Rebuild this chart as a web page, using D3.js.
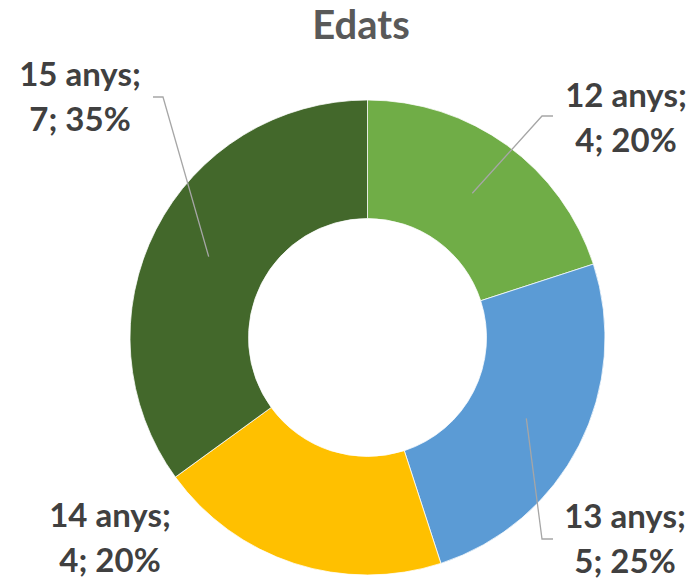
<!DOCTYPE html>
<html>
<head>
<meta charset="utf-8">
<script src="https://cdn.jsdelivr.net/npm/d3@7/dist/d3.min.js"></script>
<style>
  body { margin: 0; background: #fff; }
  text { font-family: Lato, 'Open Sans', sans-serif; font-weight: 700; }
</style>
</head>
<body>
<script>
// data
const categories = ['12 anys', '13 anys', '14 anys', '15 anys'];
const values = [4, 5, 4, 7];
const colors = ['#70AD47', '#5B9BD5', '#FFC000', '#43682B'];

const width = 695;
const height = 580;
const center = { x: 367.5, y: 337.5 };
const outerR = 237.5;
const innerR = 119;

// label layout (x = text centre, y = first baseline, elbow = end of leader near the text)
const labelLayout = [
    { x: 626, y: 107, elbow: [553, 116], knee: [542, 116] },
    { x: 625, y: 528, elbow: [553, 539], knee: [542, 539] },
    { x: 110, y: 527, elbow: null },
    { x: 80, y: 86, elbow: [153, 97], knee: [163, 97], anchorAngle: 297 }
];

const svg = d3.select('body').append('svg')
    .attr('width', width)
    .attr('height', height);

svg.append('text')
    .attr('x', 361)
    .attr('y', 39)
    .attr('text-anchor', 'middle')
    .attr('fill', '#595959')
    .style('font-size', '40px')
    .text('Edats');

const total = d3.sum(values);
const pie = d3.pie().sort(null).value((d) => d.value);
const arc = d3.arc().innerRadius(innerR).outerRadius(outerR);
const data = categories.map((c, i) => ({ name: c, value: values[i], color: colors[i] }));
const arcs = pie(data);

const root = svg.append('g').attr('transform', `translate(${center.x},${center.y})`);

root.selectAll('path.slice').data(arcs).enter().append('path')
    .attr('class', 'slice')
    .attr('d', arc)
    .attr('fill', (d) => d.data.color)
    .attr('stroke', '#fff')
    .attr('stroke-width', 0.75);

//leader lines
const midR = (innerR + outerR) / 2;
arcs.forEach((d, i) => {
    const lay = labelLayout[i];
    if (!lay.elbow) return;
    let p;
    if (lay.anchorAngle != null) {
        const a = lay.anchorAngle * Math.PI / 180;
        p = [Math.sin(a) * midR, -Math.cos(a) * midR];
    } else {
        p = d3.arc().innerRadius(midR).outerRadius(midR).centroid(d);
    }
    const pts = [lay.elbow, lay.knee, [center.x + p[0], center.y + p[1]]];
    svg.append('path')
        .attr('d', d3.line()(pts))
        .attr('fill', 'none')
        .attr('stroke', '#A6A6A6')
        .attr('stroke-width', 1.3);
});

//labels
const pct = d3.format('.0%');
arcs.forEach((d, i) => {
    const lay = labelLayout[i];
    const t = svg.append('text')
        .attr('text-anchor', 'middle')
        .attr('fill', '#404040')
        .style('font-size', '33px');
    t.append('tspan').attr('x', lay.x).attr('y', lay.y).text(`${d.data.name};`);
    t.append('tspan').attr('x', lay.x).attr('y', lay.y + 45)
        .text(`${d.data.value}; ${pct(d.data.value / total)}`);
});
</script>
</body>
</html>
